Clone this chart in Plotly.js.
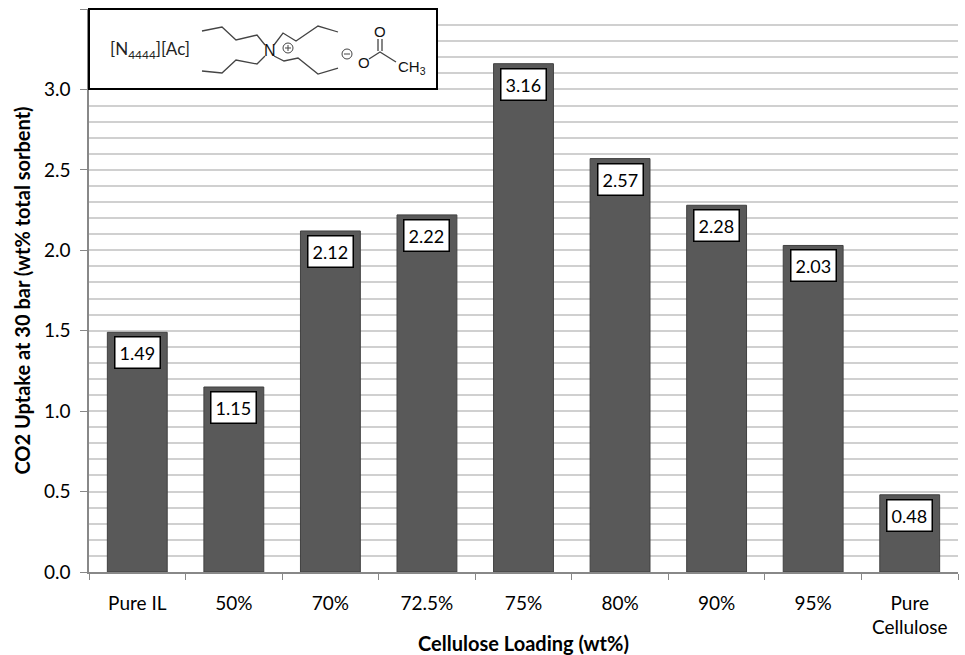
<!DOCTYPE html>
<html>
<head>
<meta charset="utf-8">
<script src="https://cdn.plot.ly/plotly-3.0.1.min.js"></script>
<style>
  body { margin: 0; background: #fff; }
  #graph { width: 965px; height: 655px; }
</style>
</head>
<body>
<div id="graph"></div>
<script>
// chart data
const loadings = ['Pure IL', '50%', '70%', '72.5%', '75%', '80%', '90%', '95%', 'Pure<br>Cellulose'];
const uptake = [1.49, 1.15, 2.12, 2.22, 3.16, 2.57, 2.28, 2.03, 0.48];

// plot box in page pixels, used to place the inset drawing
const L = 89, R = 958, T = 9, B = 572;
const px = (x, y) => [(x - L) / (R - L), (B - y) / (B - T)];

function line(points, w) {
    /** polyline in page pixels -> paper shape */
    const d = points.map((p, i) => {
        const q = px(p[0], p[1]);
        return (i ? 'L' : 'M') + q[0].toFixed(5) + ',' + q[1].toFixed(5);
    }).join(' ');
    return {type: 'path', xref: 'paper', yref: 'paper', path: d,
            line: {color: '#444', width: w || 1.3}};
}

function circle(cx, cy, r) {
    const a = px(cx - r, cy + r), b = px(cx + r, cy - r);
    return {type: 'circle', xref: 'paper', yref: 'paper',
            x0: a[0], y0: a[1], x1: b[0], y1: b[1],
            line: {color: '#444', width: 1}};
}

function label(x, y, text, size) {
    const p = px(x, y);
    return {xref: 'paper', yref: 'paper', x: p[0], y: p[1], xanchor: 'center', yanchor: 'middle',
            text: text, showarrow: false,
            font: {family: 'Arial, Liberation Sans', size: size || 15, color: '#111'}};
}

const boxA = px(89, 9), boxB = px(437, 89);

const shapes = [
    {type: 'rect', xref: 'paper', yref: 'paper', x0: boxA[0], y0: boxA[1], x1: boxB[0], y1: boxB[1],
     line: {color: '#000', width: 2}, fillcolor: '#fff'},
    // butyl chains
    line([[202, 31], [222, 27], [236, 40], [257, 35], [265, 45]]),
    line([[202, 71], [222, 73], [236, 60], [257, 64], [265, 56]]),
    line([[274, 45], [283, 33], [296, 41], [318, 26], [338, 32]]),
    line([[274, 56], [284, 61], [298, 58], [318, 74], [338, 68]]),
    // acetate
    line([[369, 59], [380, 52], [396, 62]]),
    line([[378, 51], [378, 39]]),
    line([[382, 51], [382, 39]]),
    circle(288, 48, 5),
    circle(347, 54, 5),
    line([[285, 48], [291, 48]], 1),
    line([[288, 45], [288, 51]], 1),
    line([[344, 54], [350, 54]], 1)
];

const annotations = [
    {xref: 'paper', yref: 'paper', x: px(108, 50)[0], y: px(108, 50)[1], xanchor: 'left', yanchor: 'middle',
     text: '[N<sub>4444</sub>][Ac]', showarrow: false,
     font: {family: 'Lato, Noto Sans', size: 17, color: '#222'}},
    label(270, 51, 'N', 16),
    label(364, 63, 'O', 15),
    label(380, 32, 'O', 15),
    label(412, 67, 'CH<sub>3</sub>', 15)
];

// value labels in boxes
loadings.forEach((c, i) => {
    annotations.push({
        x: c, y: uptake[i], xref: 'x', yref: 'y', yanchor: 'top', yshift: -4,
        text: uptake[i].toFixed(2), showarrow: false,
        bgcolor: '#fff', bordercolor: '#000', borderwidth: 1.5, borderpad: 4,
        font: {family: 'Lato, Noto Sans', size: 18, color: '#000'}
    });
});

const trace = {
    x: loadings,
    y: uptake,
    type: 'bar',
    marker: {color: '#595959', line: {color: '#404040', width: 1}},
    hoverinfo: 'x+y'
};

const layout = {
    width: 965,
    height: 655,
    margin: {l: L, r: 965 - R, t: T, b: 655 - B},
    paper_bgcolor: '#fff',
    plot_bgcolor: '#fff',
    bargap: 0.38,
    showlegend: false,
    font: {family: 'Lato, Noto Sans', size: 19, color: '#000'},
    xaxis: {
        type: 'category',
        tickson: 'boundaries',
        ticks: 'outside',
        ticklen: 6,
        tickcolor: '#888',
        showline: true,
        linecolor: '#888',
        linewidth: 1.5,
        showgrid: false,
        tickfont: {size: 19},
        ticklabelstandoff: 13,
        title: {text: 'Cellulose Loading (wt%)', font: {size: 20, weight: 'bold'}, standoff: 12},
        automargin: false
    },
    yaxis: {
        range: [0, 3.5],
        dtick: 0.5,
        tickformat: '.1f',
        ticks: 'outside',
        ticklen: 7,
        tickcolor: '#888',
        showline: true,
        linecolor: '#888',
        linewidth: 1.5,
        showgrid: true,
        gridcolor: '#d0d0d0',
        gridwidth: 1.5,
        zeroline: false,
        minor: {dtick: 0.1, showgrid: true, gridcolor: '#d0d0d0', gridwidth: 1.5},
        tickfont: {size: 19},
        ticklabelstandoff: 6,
        title: {text: 'CO2 Uptake at 30 bar (wt% total sorbent)', font: {size: 20, weight: 'bold'}, standoff: 8},
        automargin: false
    },
    shapes: shapes,
    annotations: annotations
};

Plotly.newPlot('graph', [trace], layout, {displayModeBar: false});
</script>
</body>
</html>
